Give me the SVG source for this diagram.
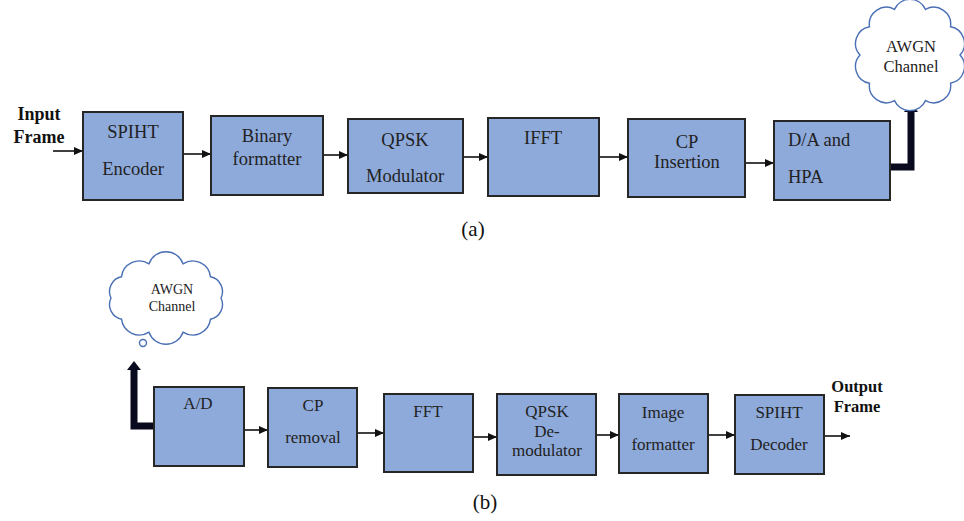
<svg xmlns="http://www.w3.org/2000/svg" width="964" height="521" viewBox="0 0 964 521" font-family="'Liberation Serif', 'Times New Roman', serif">
<style>
.box{fill:#8eaadb;stroke:#262626;stroke-width:2}
text{font-family:"Liberation Serif","Times New Roman",serif}
.t{fill:#222;text-anchor:middle}
.t1{font-size:18.5px}
.t2{font-size:17px}
.lbl{font-weight:bold;fill:#111;text-anchor:middle}
.cap{font-size:21px;fill:#111;text-anchor:middle}
.cloud{fill:#fff;stroke:#4a6fb5;stroke-width:1.4}
.ln{fill:none;stroke:#111;stroke-width:1.6}
.thick{fill:none;stroke:#0a0a1e;stroke-width:7}
</style>
<defs>
<marker id="ah" markerUnits="userSpaceOnUse" markerWidth="10" markerHeight="8" refX="9" refY="4" orient="auto">
<path d="M0,0 L9,4 L0,8 z" fill="#111"/>
</marker>
<marker id="th" markerUnits="userSpaceOnUse" markerWidth="10" markerHeight="14" refX="0" refY="7" orient="auto">
<path d="M0,0 L9,7 L0,14 z" fill="#0a0a1e"/>
</marker>
</defs>
<rect width="964" height="521" fill="#fff"/>

<g id="connectors">
<line class="ln" x1="53" y1="151" x2="83" y2="151" marker-end="url(#ah)"/>
<line class="ln" x1="183" y1="154" x2="211" y2="154" marker-end="url(#ah)"/>
<line class="ln" x1="323" y1="155" x2="348" y2="155" marker-end="url(#ah)"/>
<line class="ln" x1="463" y1="157" x2="488" y2="157" marker-end="url(#ah)"/>
<line class="ln" x1="599" y1="157" x2="628" y2="157" marker-end="url(#ah)"/>
<line class="ln" x1="745" y1="163" x2="774" y2="163" marker-end="url(#ah)"/>
<polyline class="thick" points="890,167 911,167 911,112" marker-end="url(#th)"/>
<polyline class="thick" points="154,426 134,426 134,370" marker-end="url(#th)"/>
<line class="ln" x1="244" y1="430" x2="268" y2="430" marker-end="url(#ah)"/>
<line class="ln" x1="357" y1="433" x2="384" y2="433" marker-end="url(#ah)"/>
<line class="ln" x1="473" y1="437" x2="497" y2="437" marker-end="url(#ah)"/>
<line class="ln" x1="596" y1="435" x2="619" y2="435" marker-end="url(#ah)"/>
<line class="ln" x1="708" y1="435" x2="735" y2="435" marker-end="url(#ah)"/>
<line class="ln" x1="824" y1="436" x2="850" y2="436" marker-end="url(#ah)"/>
</g>

<g id="input-label">
<text class="lbl" font-size="18px" x="39" y="120">Input</text>
<text class="lbl" font-size="18px" x="39" y="143">Frame</text>
</g>

<g id="spiht-encoder">
<rect class="box" x="83" y="112" width="100" height="88"/>
<text class="t t1" x="133" y="138">SPIHT</text>
<text class="t t1" x="133" y="175">Encoder</text>
</g>
<g id="binary-formatter">
<rect class="box" x="211" y="116" width="112" height="79"/>
<text class="t t1" x="267" y="142">Binary</text>
<text class="t t1" x="267" y="165">formatter</text>
</g>
<g id="qpsk-modulator">
<rect class="box" x="348" y="119" width="115" height="74"/>
<text class="t t1" x="405" y="146">QPSK</text>
<text class="t t1" x="405" y="182">Modulator</text>
</g>
<g id="ifft">
<rect class="box" x="488" y="118" width="111" height="78"/>
<text class="t t1" x="543" y="144">IFFT</text>
</g>
<g id="cp-insertion">
<rect class="box" x="628" y="119" width="117" height="78"/>
<text class="t t1" x="687" y="148">CP</text>
<text class="t t1" x="687" y="168">Insertion</text>
</g>
<g id="da-hpa">
<rect class="box" x="774" y="121" width="116" height="79"/>
<text class="t t1" x="788" y="146" style="text-anchor:start">D/A and</text>
<text class="t t1" x="788" y="183" style="text-anchor:start">HPA</text>
</g>

<g id="awgn-cloud-a">
<path class="cloud" d="M960,55 A17,17 0 0 1 950.5,83.2 A17,17 0 0 1 925.5,100.6 A17,17 0 0 1 894.5,100.6 A17,17 0 0 1 869.5,83.2 A17,17 0 0 1 860,55 A17,17 0 0 1 869.5,26.8 A17,17 0 0 1 894.5,9.4 A17,17 0 0 1 925.5,9.4 A17,17 0 0 1 950.5,26.8 A17,17 0 0 1 960,55 Z"/>
<text class="t" font-size="16.5px" x="911" y="52">AWGN</text>
<text class="t" font-size="16.5px" x="911" y="72">Channel</text>
</g>

<text class="cap" x="473" y="236">(a)</text>

<g id="awgn-cloud-b">
<path class="cloud" d="M221,298 A15,15 0 0 1 210.5,319.2 A18,18 0 0 1 183,332.2 A18,18 0 0 1 149,332.2 A18,18 0 0 1 121.5,319.2 A15,15 0 0 1 111,298 A15,15 0 0 1 121.5,276.8 A18,18 0 0 1 149,263.8 A18,18 0 0 1 183,263.8 A18,18 0 0 1 210.5,276.8 A15,15 0 0 1 221,298 Z"/>
<circle class="cloud" cx="143" cy="343" r="3.5"/>
<text class="t" font-size="14px" x="172" y="294">AWGN</text>
<text class="t" font-size="14px" x="172" y="311">Channel</text>
</g>

<g id="ad">
<rect class="box" x="154" y="387" width="90" height="79"/>
<text class="t t2" x="198" y="409">A/D</text>
</g>
<g id="cp-removal">
<rect class="box" x="268" y="388" width="89" height="79"/>
<text class="t t2" x="313" y="411">CP</text>
<text class="t t2" x="313" y="443">removal</text>
</g>
<g id="fft">
<rect class="box" x="384" y="394" width="89" height="78"/>
<text class="t t2" x="428" y="417">FFT</text>
</g>
<g id="qpsk-demodulator">
<rect class="box" x="497" y="394" width="99" height="81"/>
<text class="t t2" x="547" y="417">QPSK</text>
<text class="t t2" x="547" y="437">De-</text>
<text class="t t2" x="547" y="456">modulator</text>
</g>
<g id="image-formatter">
<rect class="box" x="619" y="394" width="89" height="79"/>
<text class="t t2" x="663" y="418">Image</text>
<text class="t t2" x="663" y="450">formatter</text>
</g>
<g id="spiht-decoder">
<rect class="box" x="735" y="395" width="89" height="79"/>
<text class="t t2" x="779" y="418">SPIHT</text>
<text class="t t2" x="779" y="450">Decoder</text>
</g>

<g id="output-label">
<text class="lbl" font-size="16.5px" x="857" y="392">Output</text>
<text class="lbl" font-size="16.5px" x="857" y="412">Frame</text>
</g>

<text class="cap" x="485" y="509">(b)</text>
</svg>
